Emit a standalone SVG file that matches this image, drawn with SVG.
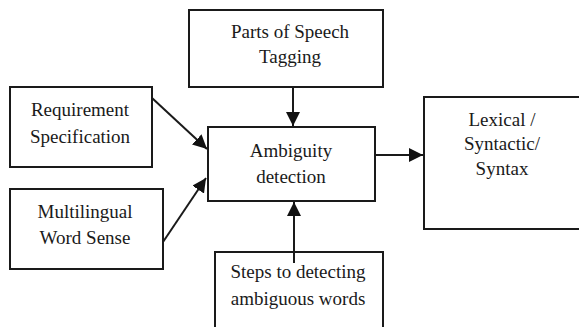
<svg xmlns="http://www.w3.org/2000/svg" width="579" height="327" viewBox="0 0 579 327" font-family="Liberation Serif, DejaVu Serif, Times New Roman, serif">
<style>
.box{fill:#fff;stroke:#1a1a1a;stroke-width:2}
.t{font-size:19px;fill:#1a1a1a;text-anchor:middle}
.c{stroke:#1a1a1a;stroke-width:2;fill:none;marker-end:url(#ah)}
</style>
<defs>
<marker id="ah" markerWidth="14" markerHeight="14" refX="12" refY="6" orient="auto" markerUnits="userSpaceOnUse" viewBox="0 0 12 12">
<path d="M0,0 L12,6 L0,12 z" fill="#111"/>
</marker>
</defs>
<rect width="579" height="327" fill="#fff"/>
<g id="pos">
<rect class="box" x="189" y="10" width="194" height="77"/>
<text class="t" x="290" y="38" font-family="Liberation Serif">Parts of Speech</text>
<text class="t" x="290" y="63" font-family="Liberation Serif">Tagging</text>
</g>
<g id="req">
<rect class="box" x="10" y="87" width="142" height="80"/>
<text class="t" x="80" y="116" font-family="Liberation Serif">Requirement</text>
<text class="t" x="80" y="143" font-family="Liberation Serif">Specification</text>
</g>
<g id="multi">
<rect class="box" x="10" y="189" width="153" height="80"/>
<text class="t" x="85" y="218" font-family="Liberation Serif">Multilingual</text>
<text class="t" x="85" y="244" font-family="Liberation Serif">Word Sense</text>
</g>
<g id="amb">
<rect class="box" x="208" y="127" width="167" height="74"/>
<text class="t" x="291" y="157" font-family="Liberation Serif">Ambiguity</text>
<text class="t" x="291" y="183" font-family="Liberation Serif">detection</text>
</g>
<g id="lex">
<rect class="box" x="424" y="97" width="170" height="132"/>
<text class="t" x="502" y="126" font-family="Liberation Serif">Lexical /</text>
<text class="t" x="502" y="150" font-family="Liberation Serif">Syntactic/</text>
<text class="t" x="502" y="175" font-family="Liberation Serif">Syntax</text>
</g>
<g id="steps">
<rect class="box" x="215" y="252" width="168" height="90"/>
<text class="t" x="298" y="278" font-family="Liberation Serif">Steps to detecting</text>
<text class="t" x="298" y="305" font-family="Liberation Serif">ambiguous words</text>
</g>
<g id="connectors">
<line class="c" x1="293" y1="87" x2="293" y2="126"/>
<line class="c" x1="152" y1="98" x2="207" y2="149"/>
<line class="c" x1="163" y1="242" x2="206" y2="178"/>
<line class="c" x1="375" y1="155" x2="423" y2="155"/>
<line class="c" x1="294" y1="263" x2="294" y2="202"/>
</g>
</svg>
